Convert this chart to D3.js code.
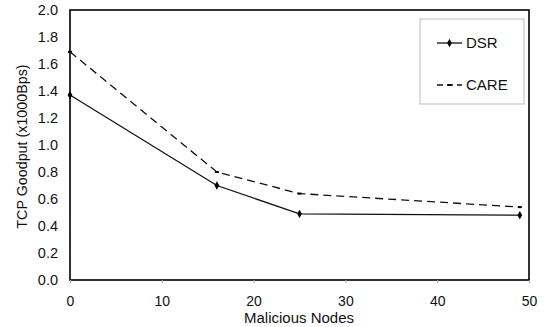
<!DOCTYPE html>
<html><head><meta charset="utf-8">
<script src="https://cdn.jsdelivr.net/npm/d3@7"></script>
<style>body{margin:0;background:#fff}svg{display:block}text{font-family:"Liberation Sans",Arial,sans-serif;fill:#111}</style>
</head><body><svg id="c" width="545" height="327"></svg>
<script>
const xValues = [0, 16, 25, 49];
const dsr = [1.37, 0.70, 0.49, 0.48];
const care = [1.69, 0.80, 0.64, 0.54];
const xTicks = [0, 10, 20, 30, 40, 50];
const yTicks = [0, 0.2, 0.4, 0.6, 0.8, 1.0, 1.2, 1.4, 1.6, 1.8, 2.0];
const seriesNames = ["DSR", "CARE"];

const svg = d3.select("#c");
const x = d3.scaleLinear().domain([0, 50]).range([70, 529]);
const y = d3.scaleLinear().domain([0, 2]).range([280, 10]);

// frame
svg.append("rect").attr("x", 70).attr("y", 10).attr("width", 459).attr("height", 270)
  .attr("fill", "none").attr("stroke", "#000").attr("stroke-width", 1.6);

const xa = svg.append("g").attr("transform", "translate(0,280)")
  .call(d3.axisBottom(x).tickValues(xTicks).tickFormat(d3.format("d")).tickSize(3).tickPadding(4));
const ya = svg.append("g").attr("transform", "translate(70,0)")
  .call(d3.axisLeft(y).tickValues(yTicks).tickFormat(d3.format(".1f")).tickSize(0).tickPadding(12));
[xa, ya].forEach(a => {
  a.select(".domain").remove();
  a.selectAll("line").attr("stroke", "#aaa");
  a.selectAll("text").style("font-size", "14.5px").style("fill", "#111").attr("font-family", null);
});
xa.selectAll("text").attr("dy", null).attr("y", 25.5).style("font-size", "14px");

svg.append("text").attr("x", 299).attr("y", 323).attr("text-anchor", "middle")
  .style("font-size", "15px").text("Malicious Nodes");
svg.append("text").attr("transform", "translate(27,146.5) rotate(-90)").attr("text-anchor", "middle")
  .style("font-size", "14.3px").text("TCP Goodput (x1000Bps)");

const line = d3.line().x(d => x(d[0])).y(d => y(d[1]));
const dsrPts = xValues.map((v, i) => [v, dsr[i]]);
const carePts = xValues.map((v, i) => [v, care[i]]);

svg.append("path").datum(carePts).attr("d", line).attr("fill", "none")
  .attr("stroke", "#111").attr("stroke-width", 1.3).attr("stroke-dasharray", "8,5");
svg.append("path").datum(dsrPts).attr("d", line).attr("fill", "none")
  .attr("stroke", "#111").attr("stroke-width", 1.3);

const diamond = d3.symbol().type(d3.symbolDiamond).size(20);
svg.selectAll(".dm").data(dsrPts).enter().append("path")
  .attr("transform", d => `translate(${x(d[0])},${y(d[1])})`).attr("d", diamond).attr("fill", "#000");
svg.selectAll(".cm").data(carePts).enter().append("rect")
  .attr("x", d => x(d[0]) - 2).attr("y", d => y(d[1]) - 1).attr("width", 4).attr("height", 2).attr("fill", "#000");

// legend
svg.append("rect").attr("x", 420).attr("y", 19).attr("width", 104).attr("height", 85)
  .attr("fill", "#fff").attr("stroke", "#bbb").attr("stroke-width", 1);
const lg = [43, 85];
seriesNames.forEach((n, i) => {
  svg.append("line").attr("x1", 437).attr("x2", 462).attr("y1", lg[i]).attr("y2", lg[i])
    .attr("stroke", "#111").attr("stroke-width", 1.3).attr("stroke-dasharray", i ? "6,4" : null);
  if (i === 0) svg.append("path").attr("transform", `translate(449.5,${lg[i]})`).attr("d", diamond).attr("fill", "#000");
  else svg.append("rect").attr("x", 447.5).attr("y", lg[i] - 1).attr("width", 4).attr("height", 2).attr("fill", "#000");
  svg.append("text").attr("x", 466).attr("y", lg[i] + 5.4).style("font-size", "15px").text(n);
});
</script></body></html>
